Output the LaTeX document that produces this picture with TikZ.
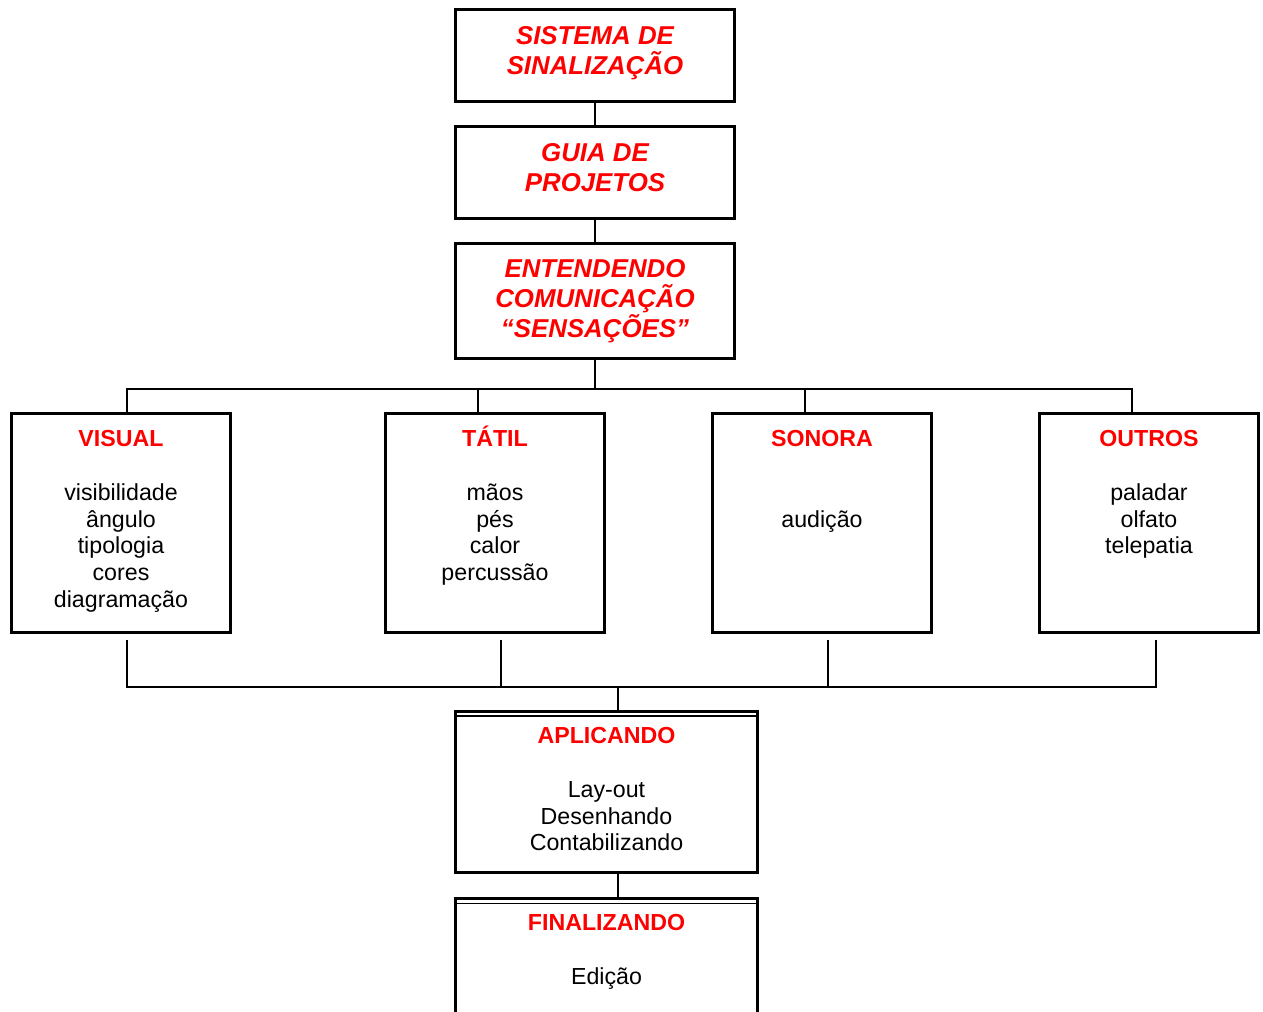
\documentclass[tikz,border=0pt]{standalone}
\usepackage{fontspec}
\setmainfont{Liberation Sans}
\usetikzlibrary{positioning}

\tikzset{
 headbox/.style={draw, line width=1.7pt, minimum width=5.58cm, minimum height=1.84cm, align=center, text=red, font=\fontsize{14.7}{17}\selectfont\bfseries\itshape},
 sensebox/.style={draw, line width=1.7pt, minimum width=4.38cm, minimum height=4.38cm, inner sep=0pt},
 stagebox/.style={draw, line width=1.7pt, minimum width=6.04cm, inner sep=0pt},
 content/.style={anchor=north, inner sep=0pt, align=center, font=\fontsize{13.2}{15.3}\selectfont},
 conn/.style={line width=0.85pt},
}
\newcommand{\titulo}[1]{\rule{0pt}{12.5pt}\textcolor{red}{\textbf{#1}}}

\begin{document}
\begin{tikzpicture}
 \useasboundingbox (0,0) rectangle (25.26,-20.22);
 \clip (0,0) rectangle (25.26,-20.22);
%caixas do topo
 \node[headbox, text depth=5.4pt] (sis) at (11.9,-1.11) {SISTEMA DE\\SINALIZAÇÃO};
 \node[headbox, text depth=5.9pt] (guia) at (11.9,-3.45) {GUIA DE\\PROJETOS};
 \node[headbox, minimum height=2.30cm] (ent) at (11.9,-6.02) {ENTENDENDO\\COMUNICAÇÃO\\“SENSAÇÕES”};
 \draw[conn] (sis) -- (guia);
 \draw[conn] (guia) -- (ent);
%sensações
 \node[sensebox] (visual) at (2.42,-10.46) {};
 \node[sensebox] (tatil) at (9.9,-10.46) {};
 \node[sensebox] (sonora) at (16.44,-10.46) {};
 \node[sensebox] (outros) at (22.98,-10.46) {};
 \node[content, below=0.24cm of visual.north] (visualtxt) {\titulo{VISUAL}\\[15.3pt] visibilidade\\ ângulo\\ tipologia\\ cores\\ diagramação};
 \node[content, below=0.24cm of tatil.north] (tatiltxt) {\titulo{TÁTIL}\\[15.3pt] mãos\\ pés\\ calor\\ percussão};
 \node[content, below=0.24cm of sonora.north] (sonoratxt) {\titulo{SONORA}\\[30.6pt] audição};
 \node[content, below=0.24cm of outros.north] (outrostxt) {\titulo{OUTROS}\\[15.3pt] paladar\\ olfato\\ telepatia};
 \draw[conn] (ent.south) -- ++(0,-0.58) coordinate (bus1);
 \draw[conn] ([xshift=0.12cm]visual.north) |- (bus1) -| ([xshift=-0.34cm]outros.north);
 \draw[conn] ([xshift=-0.34cm]tatil.north) -- ++(0,0.46);
 \draw[conn] ([xshift=-0.34cm]sonora.north) -- ++(0,0.46);
%aplicando e finalizando
 \node[stagebox, minimum height=3.22cm] (apl) at (12.13,-15.84) {};
 \node[stagebox, minimum height=3.0cm] (fin) at (12.13,-19.47) {};
 \draw[line width=0.6pt] ([yshift=-0.12cm]apl.north west) -- ([yshift=-0.12cm]apl.north east);
 \draw[line width=0.6pt] ([yshift=-0.12cm]fin.north west) -- ([yshift=-0.12cm]fin.north east);
 \node[content, below=0.22cm of apl.north] (apltxt) {\titulo{APLICANDO}\\[15.3pt] Lay-out\\ Desenhando\\ Contabilizando};
 \node[content, below=0.22cm of fin.north] (fintxt) {\titulo{FINALIZANDO}\\[15.3pt] Edição};
 \draw[conn] ([xshift=0.23cm]apl.north) -- ++(0,0.46) coordinate (bus2);
 \draw[conn] ([xshift=0.12cm,yshift=-0.12cm]visual.south) |- (bus2) -| ([xshift=0.14cm,yshift=-0.12cm]outros.south);
 \draw[conn] ([xshift=0.12cm,yshift=-0.12cm]tatil.south) -- ++(0,-0.94);
 \draw[conn] ([xshift=0.12cm,yshift=-0.12cm]sonora.south) -- ++(0,-0.94);
 \draw[conn] ([xshift=0.23cm]apl.south) -- ([xshift=0.23cm]fin.north);
\end{tikzpicture}
\end{document}
